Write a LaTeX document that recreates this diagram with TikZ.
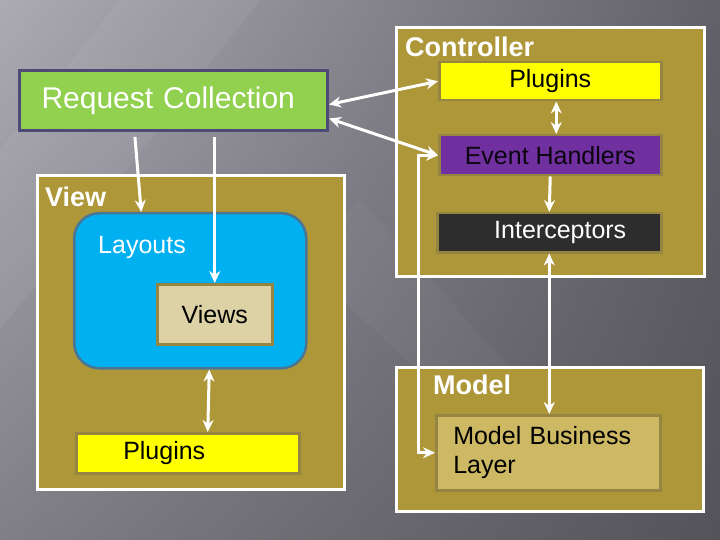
\documentclass[tikz,border=0pt]{standalone}
\usepackage{fontspec}
\setmainfont{Liberation Sans}
\usetikzlibrary{calc}
\usetikzlibrary{arrows.meta}
\usetikzlibrary{shadings}

\definecolor{mvcolive}{RGB}{174,151,56}
\definecolor{boxedge}{RGB}{150,133,66}
\definecolor{rcgreen}{RGB}{146,208,80}
\definecolor{rcedge}{RGB}{78,74,120}
\definecolor{plugyellow}{RGB}{255,255,0}
\definecolor{evhpurple}{RGB}{112,48,160}
\definecolor{icpdark}{RGB}{45,45,45}
\definecolor{layblue}{RGB}{0,176,240}
\definecolor{layedge}{RGB}{72,118,148}
\definecolor{viewstan}{RGB}{221,210,165}
\definecolor{mblfill}{RGB}{205,185,100}
\definecolor{bgul}{RGB}{172,170,178}
\definecolor{bgur}{RGB}{98,96,104}
\definecolor{bgll}{RGB}{128,126,134}
\definecolor{bglr}{RGB}{84,83,89}

\begin{document}
\begin{tikzpicture}[x=1pt, y=-1pt,
  >={Stealth[length=12pt, width=11pt]},
  group/.style={draw=white, line width=3pt, fill=mvcolive, anchor=north west, inner sep=0pt},
  inbox/.style={draw=boxedge, line width=2.5pt, anchor=north west, inner sep=0pt, font=\fontsize{25}{29}\selectfont},
  grplbl/.style={anchor=base west, inner sep=0pt, text=white, font=\fontsize{27}{30}\selectfont\bfseries},
  arr/.style={draw=white, line width=3pt}]
\useasboundingbox (0,0) rectangle (720,540);
\shade[upper left=bgul, upper right=bgur, lower left=bgll, lower right=bglr] (0,0) rectangle (720,540);
\fill[white, opacity=.05] (0,150) -- (120,0) -- (260,0) -- (0,330) -- cycle;
\fill[white, opacity=.03] (300,260) -- (360,200) -- (520,380) -- (470,420) -- cycle;

% groups
\node[group, minimum width=308, minimum height=249] (ctrl) at (395,26) {};
\node[group, minimum width=307, minimum height=314] (view) at (36,174) {};
\node[group, minimum width=307, minimum height=144] (model) at (395,366) {};
\node[grplbl] (ctrllbl) at (405,57) {Controller};
\node[grplbl] (viewlbl) at (45,207) {View};
\node[grplbl] (modellbl) at (433,394) {Model};

% boxes
\node[inbox, draw=rcedge, line width=3pt, fill=rcgreen, minimum width=308, minimum height=60,
      text width=264, inner xsep=22, align=left, text=white, font=\fontsize{30}{34}\selectfont] (rc) at (18,69) {Request Collection};
\node[inbox, fill=plugyellow, minimum width=222, minimum height=38] (cplug) at (438,61) {Plugins};
\node[inbox, fill=evhpurple, minimum width=222, minimum height=40, text=black!90!evhpurple] (evh) at (438,134) {Event Handlers};
\node[inbox, fill=icpdark, minimum width=224, minimum height=39, text=white,
      text width=154, inner xsep=35, align=right] (icp) at (436,212) {Interceptors};
\node[inbox, draw=layedge, fill=layblue, rounded corners=25pt, minimum width=232, minimum height=155] (layouts) at (73,212) {};
\node[anchor=base west, inner sep=0pt, text=white, font=\fontsize{25}{29}\selectfont] (layoutslbl) at (98,254) {Layouts};
\node[inbox, fill=viewstan, minimum width=115, minimum height=60] (views) at (156,283) {Views};
\node[inbox, fill=plugyellow, minimum width=223, minimum height=40,
      text width=129, inner xsep=47, align=left] (vplug) at (75,432) {Plugins};
\node[inbox, fill=mblfill, minimum width=223, minimum height=75,
      text width=190, inner xsep=17, align=left] (mbl) at (435,414) {Model Business\\Layer};

% connectors
\draw[arr, <->] ([yshift=-4pt]rc.east) -- (cplug.west);
\draw[arr, <->] ([yshift=-18pt]rc.east) -- (evh.west);
\draw[arr, ->, shorten <=5pt] ([xshift=-39pt]rc.south) -- ([xshift=-49pt]layouts.north);
\draw[arr, ->, shorten <=5pt] (rc.south -| views.north) -- (views.north);
\draw[arr, <->] ([xshift=6pt]cplug.south) -- ([xshift=6pt]evh.north);
\draw[arr, ->] (evh.south) -- (icp.north);
\draw[arr, <->] (icp.south) -- (icp.south |- mbl.north);
\draw[arr, <->] (evh.west) -- ++(-20,0) |- (mbl.west);
\draw[arr, <->] ([xshift=19pt]layouts.south) -- ([xshift=20pt]vplug.north);

\end{tikzpicture}
\end{document}
